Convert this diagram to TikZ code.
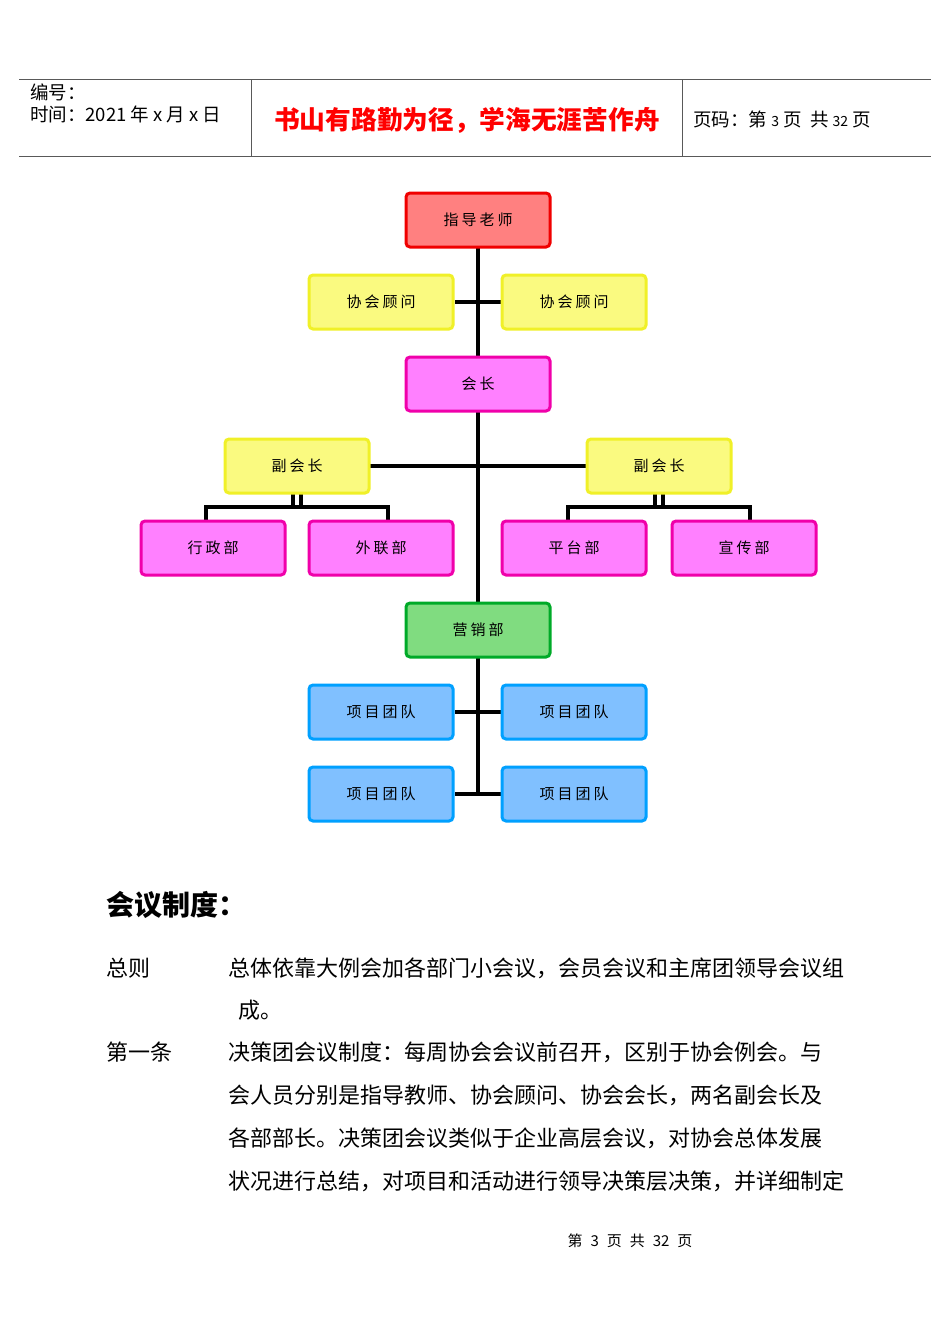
\documentclass[tikz,border=0pt]{standalone}
\usepackage{fontspec}
\setmainfont{Liberation Sans}
\newfontfamily\cjk{Noto Sans CJK SC}
\newcommand{\gapx}{\hspace{3pt}}
\begin{document}
\begin{tikzpicture}[x=1pt,y=-1pt,
 bx/.style={draw,line width=3pt,rounded corners=4pt,minimum width=144pt,minimum height=54pt,font=\cjk\fontsize{15}{17}\selectfont,inner sep=0pt},
 red/.style={bx,fill={rgb,255:red,255;green,128;blue,128},draw={rgb,255:red,240;green,0;blue,0}},
 yel/.style={bx,fill={rgb,255:red,250;green,250;blue,128},draw={rgb,255:red,240;green,240;blue,40}},
 mag/.style={bx,fill={rgb,255:red,255;green,128;blue,255},draw={rgb,255:red,240;green,0;blue,170}},
 grn/.style={bx,fill={rgb,255:red,128;green,220;blue,128},draw={rgb,255:red,0;green,170;blue,40}},
 blu/.style={bx,fill={rgb,255:red,128;green,192;blue,255},draw={rgb,255:red,0;green,160;blue,255}},
 ln/.style={line width=4pt},
 body/.style={anchor=west,font=\cjk\fontsize{22}{24}\selectfont,inner sep=0pt}]
\useasboundingbox (0,0) rectangle (950,1342);
% header
\draw[gray!70!black,line width=1pt] (19,79) -- (931,79) (19,156) -- (931,156) (251,79) -- (251,156) (682,79) -- (682,156);
\node[anchor=west,font=\cjk\fontsize{18.5}{20}\selectfont,inner sep=0pt] (h1) at (30,92) {编号：};
\node[anchor=west,font=\cjk\fontsize{18.5}{20}\selectfont,inner sep=0pt] (h2) at (30,114) {时间：2021 年 x 月 x 日};
\node[font=\cjk\bfseries\fontsize{25.7}{28}\selectfont,text=red,inner sep=0pt] (ht) at (467,120) {书山有路勤为径，学海无涯苦作舟};
\node[anchor=west,font=\cjk\fontsize{18.5}{20}\selectfont,inner sep=0pt] (hp) at (693,119) {页码：第 {\fontsize{14}{15}\selectfont 3} 页\ \ 共 {\fontsize{14}{15}\selectfont 32} 页};
% lines
\draw[ln] (478,248) -- (478,602);
\draw[ln] (455,302) -- (501,302);
\draw[ln] (370,466) -- (586,466);
\draw[ln] (206,520) -- (206,507) -- (388,507) -- (388,520);
\draw[ln] (568,520) -- (568,507) -- (750,507) -- (750,520);
\draw[ln] (293,494) -- (293,507) (301,494) -- (301,507);
\draw[ln] (655,494) -- (655,507) (663,494) -- (663,507);
\draw[ln] (478,658) -- (478,794);
\draw[ln] (455,712) -- (501,712) (455,794) -- (501,794);
% boxes
\node[red] (t) at (478,220) {指\gapx 导\gapx 老\gapx 师};
\node[yel] (a1) at (381,302) {协\gapx 会\gapx 顾\gapx 问};
\node[yel] (a2) at (574,302) {协\gapx 会\gapx 顾\gapx 问};
\node[mag] (p) at (478,384) {会\gapx 长};
\node[yel] (v1) at (297,466) {副\gapx 会\gapx 长};
\node[yel] (v2) at (659,466) {副\gapx 会\gapx 长};
\node[mag] (d1) at (213,548) {行\gapx 政\gapx 部};
\node[mag] (d2) at (381,548) {外\gapx 联\gapx 部};
\node[mag] (d3) at (574,548) {平\gapx 台\gapx 部};
\node[mag] (d4) at (744,548) {宣\gapx 传\gapx 部};
\node[grn] (m) at (478,630) {营\gapx 销\gapx 部};
\node[blu] (b1) at (381,712) {项\gapx 目\gapx 团\gapx 队};
\node[blu] (b2) at (574,712) {项\gapx 目\gapx 团\gapx 队};
\node[blu] (b3) at (381,794) {项\gapx 目\gapx 团\gapx 队};
\node[blu] (b4) at (574,794) {项\gapx 目\gapx 团\gapx 队};
% text
\node[anchor=west,font=\cjk\bfseries\fontsize{28}{30}\selectfont,inner sep=0pt] (s) at (106,905) {会议制度：};
\node[body] (l0) at (106,968) {总则};
\node[body] (l1) at (228,968) {总体依靠大例会加各部门小会议，会员会议和主席团领导会议组};
\node[body] (l2) at (238,1010) {成。};
\node[body] (l3) at (106,1052) {第一条};
\node[body] (l4) at (228,1052) {决策团会议制度：每周协会会议前召开，区别于协会例会。与};
\node[body] (l5) at (228,1095) {会人员分别是指导教师、协会顾问、协会会长，两名副会长及};
\node[body] (l6) at (228,1138) {各部部长。决策团会议类似于企业高层会议，对协会总体发展};
\node[body] (l7) at (228,1181) {状况进行总结，对项目和活动进行领导决策层决策，并详细制定};
\node[font=\cjk\fontsize{15}{17}\selectfont,inner sep=0pt] (f) at (630,1241) {第\hspace{8pt}3\hspace{8pt}页\hspace{8pt}共\hspace{8pt}32\hspace{8pt}页};
\end{tikzpicture}
\end{document}
